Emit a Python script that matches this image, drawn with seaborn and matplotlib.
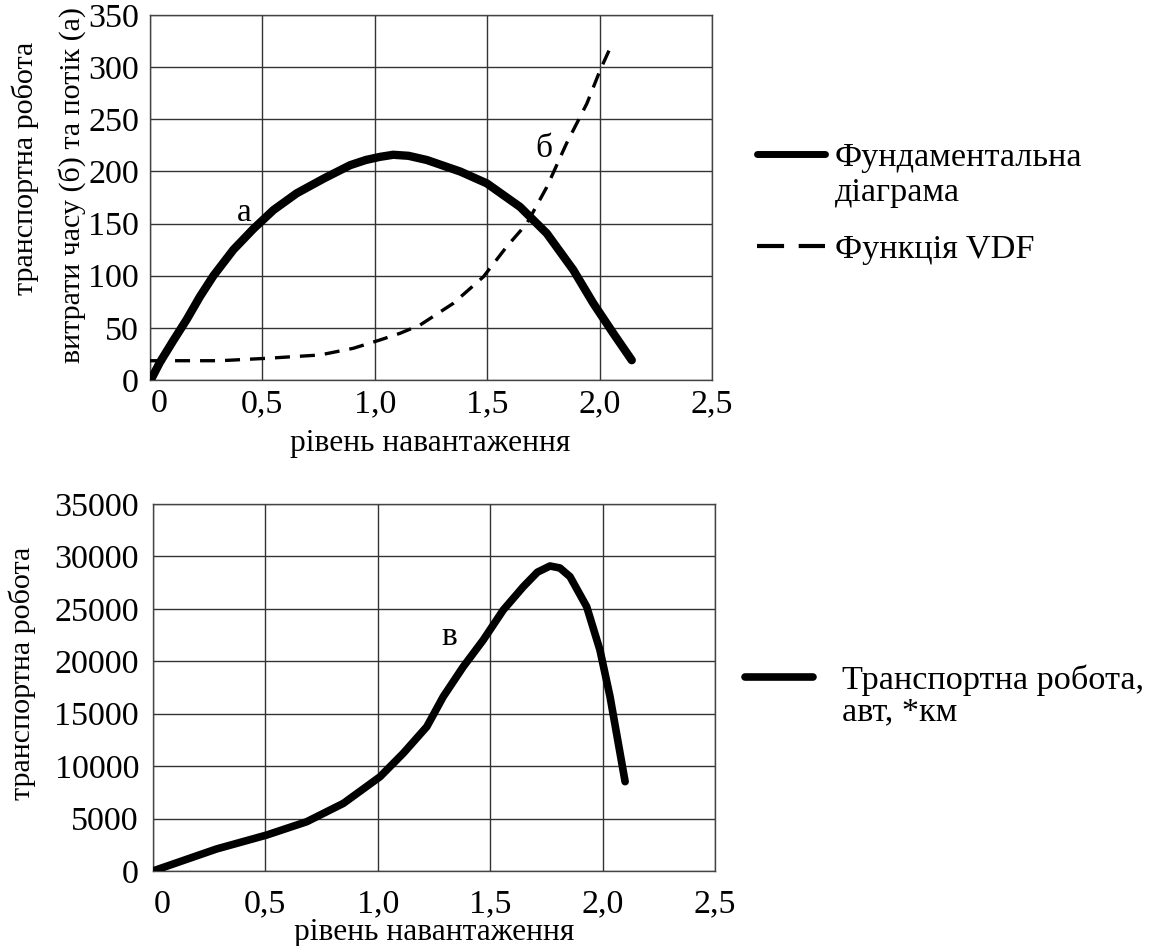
import numpy as np
import pandas as pd
import matplotlib
matplotlib.use("Agg")
import matplotlib.pyplot as plt
import matplotlib.transforms as mtransforms
from matplotlib.lines import Line2D
import seaborn as sns

# ---------------- data ----------------
fd_x = [0.0, 0.008, 0.044, 0.104, 0.163, 0.222, 0.282, 0.371, 0.46, 0.549, 0.652, 0.771, 0.89,
        0.96, 1.023, 1.082, 1.15, 1.231, 1.379, 1.498, 1.646, 1.765, 1.883, 1.972, 2.061, 2.143]
fd_y = [0, 2, 17, 38, 58, 80, 100, 125, 145, 163, 179, 193, 206,
        211, 214, 216, 215, 211, 200, 188.6, 166, 140.6, 105.5, 73.5, 44.7, 19]

vdf_x = [0.0, 0.311, 0.519, 0.756, 0.904, 1.023, 1.112, 1.201, 1.349, 1.483, 1.587, 1.676,
         1.765, 1.853, 1.943, 2.002, 2.046]
vdf_y = [18.5, 18.5, 20.8, 24, 30.4, 38.4, 44.8, 52.7, 73.5, 99, 128, 150,
         185, 227, 265, 297, 318]

tw_x = [0.0, 0.283, 0.506, 0.684, 0.847, 1.01, 1.113, 1.218, 1.291, 1.38, 1.469, 1.558,
        1.647, 1.71, 1.766, 1.81, 1.855, 1.929, 1.988, 2.033, 2.1]
tw_y = [0, 2100, 3430, 4700, 6450, 8990, 11220, 13760, 16620, 19480, 22030, 24890,
        27110, 28500, 29090, 28900, 28070, 25210, 21080, 16620, 8520]

x_ticks = [0, 0.5, 1.0, 1.5, 2.0, 2.5]
x_ticklabels = ["0", "0,5", "1,0", "1,5", "2,0", "2,5"]
y1_ticks = [0, 50, 100, 150, 200, 250, 300, 350]
y2_ticks = [0, 5000, 10000, 15000, 20000, 25000, 30000, 35000]

xlabel = "рівень навантаження"
y1_label_a = "транспортна робота"
y1_label_b = "витрати часу (б) та потік (а)"
y2_label = "транспортна робота"
leg1_fd = "Фундаментальна"
leg1_fd2 = "діаграма"
leg1_vdf = "Функція VDF"
leg2 = "Транспортна робота,"
leg2b = "авт, *км"

# ---------------- style ----------------
sns.set_theme(style="white")
plt.rcParams["font.family"] = ["Liberation Serif", "DejaVu Serif"]
plt.rcParams["text.color"] = "black"
FS_TICK = 24.5
FS_XLAB = 22.7
FS_YLAB = 21.6
FS_LEG = 24.7
FS_ANN = 24
grid_c = "#333333"

fig = plt.figure(figsize=(11.64, 9.46), dpi=100)
ax1 = fig.add_axes([0.1289, 0.5983, 0.4828, 0.3858])
ax2 = fig.add_axes([0.1314, 0.0793, 0.4829, 0.3879])

df_fd = pd.DataFrame({"x": fd_x, "y": fd_y})
df_vdf = pd.DataFrame({"x": vdf_x, "y": vdf_y})
df_tw = pd.DataFrame({"x": tw_x, "y": tw_y})

sns.lineplot(data=df_fd, x="x", y="y", ax=ax1, color="black", lw=6,
             estimator=None, solid_capstyle="round", solid_joinstyle="round", zorder=3)
sns.lineplot(data=df_vdf, x="x", y="y", ax=ax1, color="black", lw=2.4,
             estimator=None, zorder=3)
ax1.lines[-1].set_dashes((4.5, 3))
sns.lineplot(data=df_tw, x="x", y="y", ax=ax2, color="black", lw=5.5,
             estimator=None, solid_capstyle="round", solid_joinstyle="round", zorder=3)

shift = mtransforms.ScaledTranslation(9 / 100, 0, fig.dpi_scale_trans)
for ax, yt, pad_x, pad_y in [(ax1, y1_ticks, 6, 8), (ax2, y2_ticks, 13, 10)]:
    ax.set_xlim(0, 2.5)
    ax.set_ylim(yt[0], yt[-1])
    ax.set_xticks(x_ticks)
    ax.set_xticklabels(x_ticklabels)
    ax.set_yticks(yt)
    ax.set_yticklabels([str(v) for v in yt])
    ax.tick_params(axis="x", length=0, pad=pad_x, labelsize=FS_TICK, colors="black")
    ax.tick_params(axis="y", length=0, pad=pad_y, labelsize=FS_TICK, colors="black")
    ax.grid(True, color=grid_c, lw=1.0)
    ax.set_axisbelow(True)
    for s in ax.spines.values():
        s.set_color("#444444")
        s.set_linewidth(1.0)
    ax.set_xlabel("")
    ax.set_ylabel("")
    first = ax.get_xticklabels()[0]
    first.set_transform(first.get_transform() + shift)

# axis labels
fig.text(430 / 1164, 1 - 443 / 946, xlabel, ha="center", va="center", fontsize=FS_XLAB)
fig.text(434 / 1164, 1 - 932 / 946, xlabel, ha="center", va="center", fontsize=FS_XLAB)
fig.text(25 / 1164, 1 - 168 / 946, y1_label_a, rotation=90, ha="center", va="center", fontsize=FS_YLAB)
fig.text(72 / 1164, 1 - 185 / 946, y1_label_b, rotation=90, ha="center", va="center", fontsize=FS_YLAB)
fig.text(22 / 1164, 1 - 673 / 946, y2_label, rotation=90, ha="center", va="center", fontsize=FS_YLAB)

# curve labels
ax1.text(0.42, 160, "а", ha="center", va="center", fontsize=FS_ANN)
ax1.text(1.75, 222, "б", ha="center", va="center", fontsize=FS_ANN)
ax2.text(1.32, 22300, "в", ha="center", va="center", fontsize=FS_ANN)

# legends
h_fd = Line2D([], [], color="black", lw=5)
h_vdf = Line2D([], [], color="black", lw=3, dashes=(6.5, 3.5))
em = FS_LEG * 100 / 72
leg_a = ax1.legend([h_fd, h_vdf], [leg1_fd, leg1_vdf], loc="upper left",
                   bbox_to_anchor=(757 / 1164, 1 - 142 / 946), bbox_transform=fig.transFigure,
                   frameon=False, fontsize=FS_LEG, handlelength=68 / em, handletextpad=10 / em,
                   labelspacing=1.78, borderpad=0, borderaxespad=0, labelcolor="black")
fig.text(835 / 1164, 1 - 193 / 946, leg1_fd2, ha="left", va="center", fontsize=FS_LEG)

h_tw = Line2D([], [], color="black", lw=5.5)
leg_b = ax2.legend([h_tw], [leg2], loc="upper left",
                   bbox_to_anchor=(745 / 1164, 1 - 665 / 946), bbox_transform=fig.transFigure,
                   frameon=False, fontsize=FS_LEG, handlelength=68 / em, handletextpad=29 / em,
                   borderpad=0, borderaxespad=0, labelcolor="black")
fig.text(842 / 1164, 1 - 712 / 946, leg2b, ha="left", va="center", fontsize=FS_LEG)

fig.savefig("out.png", dpi=100, facecolor="white")
